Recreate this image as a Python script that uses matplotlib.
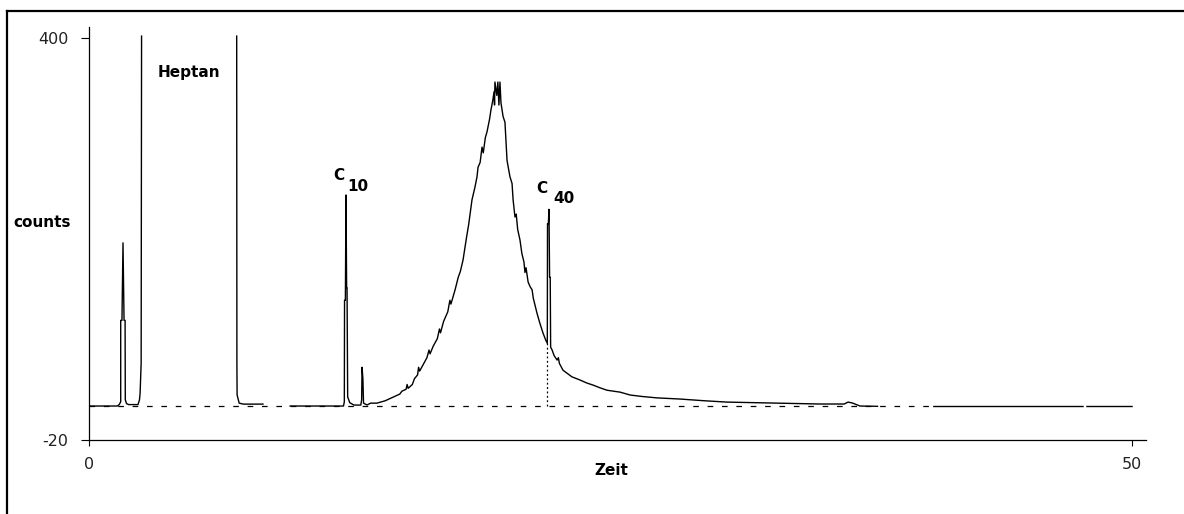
import numpy as np
import matplotlib.pyplot as plt
from matplotlib.lines import Line2D

# chromatogram trace (nan = gap / off scale)
nan = np.nan
zeit = [0.0, 1.35, 1.45, 1.52, 1.52, 1.58, 1.63, 1.68, 1.73, 1.74, 1.80, 1.90, 2.35, 2.42, 2.45, 2.50, 2.52, nan,
        7.08, 7.09, 7.10, 7.20, 7.40, 8.34, nan,
        9.64, 12.20, 12.24, 12.25, 12.29, 12.32, 12.35, 12.37, 12.40, 12.50, 12.70, 13.03, 13.07, 13.09, 13.13, 13.16,
        13.25, 13.33, 13.50, 13.80, 14.20, 14.60, 14.90, 15.00, 15.20, 15.25, 15.30, 15.50, 15.60, 15.75, 15.80, 15.85,
        16.00, 16.20, 16.30, 16.35, 16.50, 16.70, 16.80, 16.85, 17.00, 17.20, 17.30, 17.35, 17.55, 17.70, 17.80, 17.93,
        18.10, 18.20, 18.36, 18.50, 18.60, 18.65, 18.75, 18.84, 18.90, 19.00, 19.08, 19.20, 19.27, 19.35, 19.42, 19.44,
        19.46, 19.55, 19.60, 19.65, 19.70, 19.75, 19.85, 19.94, 19.98, 20.04, 20.12, 20.18, 20.28, 20.33, 20.42, 20.48,
        20.55, 20.66, 20.75, 20.85, 20.90, 20.95, 21.05, 21.15, 21.24, 21.30, 21.47, 21.60, 21.76, 21.90, 21.97,
        21.98, 22.02, 22.05, 22.08, 22.11, 22.13, 22.20, 22.30, 22.44, 22.50, 22.55, 22.72, 22.90, 23.15, 23.50, 23.87,
        24.16, 24.50, 24.83, 25.46, 25.94, 26.50, 27.23, 28.33, 29.50, 30.58, 32.00, 32.98, 35.04, 36.20, 36.39, 36.60,
        36.96, 37.80, nan,
        40.50, 47.65, nan,
        47.84, 50.0]
counts = [15.5, 15.5, 17, 20, 105, 105, 186, 105, 105, 22, 18, 17, 17, 22, 29, 60, 402, nan,
          402, 60, 27, 18.5, 17.5, 17.5, nan,
          15.5, 15.5, 20, 126, 126, 236, 139, 139, 25, 19, 16.5, 16.5, 22, 56, 44, 18.5,
          17.5, 16.6, 18.5, 18.5, 21, 25, 28, 31, 33, 38, 34, 38, 44, 48, 56, 52,
          58, 66, 74, 70, 78, 86, 96, 92, 104, 114, 126, 122, 137, 150, 156, 168,
          192, 205, 231, 244, 255, 265, 270, 286, 280, 296, 302, 315, 325, 334, 344, 330,
          354, 340, 354, 330, 354, 332, 318, 312, 296, 272, 262, 255, 248, 231, 213, 216,
          200, 189, 175, 166, 155, 160, 145, 140, 137, 128, 113, 103, 92, 84, 81,
          206, 206, 221, 150, 150, 77, 74, 68, 63.5, 66, 60, 53, 50, 46, 43, 39.5,
          37.4, 34.5, 32, 30, 27, 25.5, 24, 22.8, 21, 19.6, 19, 18.6, 17.6, 17.6, 19.6, 18.6,
          15.5, 15.2, nan,
          15, 15, nan,
          15, 15]

basislinie = 15.5
basis_start, basis_ende = 0.0, 40.6
c40_zeit, c40_fuss = 21.97, 81

x_ticks = [0, 50]
y_ticks = [-20, 400]

plt.rcParams['font.family'] = 'DejaVu Sans'

fig = plt.figure(figsize=(11.84, 5.14), dpi=100)
fig.set_facecolor('white')
ax = fig.add_axes([89/1184, 74/514, (1146-89)/1184, (487-74)/514])

ax.plot(zeit, counts, '-', color='black', lw=1.0)
ax.plot([basis_start, basis_ende], [basislinie, basislinie], color='black', lw=0.9, dashes=(4.5, 7))
ax.plot([c40_zeit, c40_zeit], [basislinie, c40_fuss], color='black', lw=0.9, dashes=(1.5, 2))

ax.set_xlim(0, 50.67)
ax.set_ylim(-20, 411.5)
ax.spines['top'].set_visible(False)
ax.spines['right'].set_visible(False)
for s in ['left', 'bottom']:
    ax.spines[s].set_linewidth(0.9)

ax.set_xticks(x_ticks)
ax.set_xticklabels([str(v) for v in x_ticks])
ax.set_yticks(y_ticks)
ax.set_yticklabels([str(v) for v in y_ticks])
ax.tick_params(axis='x', direction='out', length=4.5, width=0.8, pad=8, labelsize=11.5, labelcolor='#222222')
ax.tick_params(axis='y', direction='out', length=6, width=0.8, pad=9, labelsize=11.5, labelcolor='#222222')

# peak labels
bold = dict(fontweight='bold', fontsize=11, color='black')
ax.text(3.31, 359, 'Heptan', ha='left', va='baseline', **bold)
ax.text(11.70, 251.6, 'C', ha='left', va='baseline', **bold)
ax.text(12.37, 240, '10', ha='left', va='baseline', **bold)
ax.text(21.43, 238, 'C', ha='left', va='baseline', **bold)
ax.text(22.24, 227.6, '40', ha='left', va='baseline', **bold)

fig.text(13/1184, (514-227)/514, 'counts', ha='left', va='baseline', **bold)
fig.text(611/1184, (514-475)/514, 'Zeit', ha='center', va='baseline', **bold)

# frame around the picture (left and top edge only are in view)
fig.add_artist(Line2D([7/1184, 7/1184], [0, 1 - 11/514], transform=fig.transFigure, color='black', lw=1.6))
fig.add_artist(Line2D([7/1184, 1], [1 - 11/514, 1 - 11/514], transform=fig.transFigure, color='black', lw=1.6))

fig.savefig('out.png', dpi=100)
